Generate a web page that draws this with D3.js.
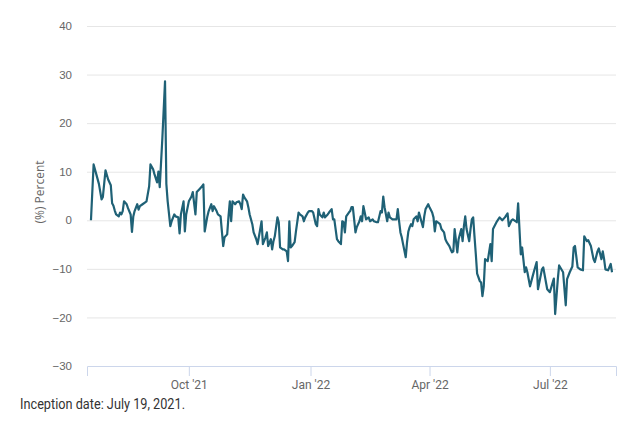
<!DOCTYPE html>
<html>
<head>
<meta charset="utf-8">
<script src="https://cdn.jsdelivr.net/npm/d3@7"></script>
<style>
  body { margin: 0; background: #fff; }
  svg { display: block; font-family: "Open Sans", sans-serif; }
  .note { font-family: "Liberation Sans Narrow", Roboto, sans-serif; }
</style>
</head>
<body>
<svg id="chart" width="640" height="421"></svg>
<script>
// daily percent values
const dates = [
  "2021-07-19","2021-07-21","2021-07-23","2021-07-25","2021-07-27","2021-07-28","2021-07-30","2021-08-01","2021-08-03","2021-08-04",
  "2021-08-05","2021-08-06","2021-08-07","2021-08-09","2021-08-10","2021-08-11","2021-08-12","2021-08-13","2021-08-15","2021-08-16",
  "2021-08-18","2021-08-19","2021-08-20","2021-08-21","2021-08-23","2021-08-24","2021-08-25","2021-08-27","2021-08-29","2021-08-30",
  "2021-09-01","2021-09-02","2021-09-04","2021-09-05","2021-09-07","2021-09-08","2021-09-09","2021-09-11","2021-09-13","2021-09-14",
  "2021-09-15","2021-09-17","2021-09-18","2021-09-20","2021-09-21","2021-09-23","2021-09-24","2021-09-25","2021-09-27","2021-09-28",
  "2021-09-29","2021-10-01","2021-10-03","2021-10-04","2021-10-06","2021-10-07","2021-10-09","2021-10-11","2021-10-12","2021-10-13",
  "2021-10-15","2021-10-16","2021-10-18","2021-10-19","2021-10-20","2021-10-22","2021-10-23","2021-10-25","2021-10-26","2021-10-27",
  "2021-10-28","2021-10-30","2021-10-31","2021-11-01","2021-11-02","2021-11-03","2021-11-05","2021-11-06","2021-11-08","2021-11-09",
  "2021-11-10","2021-11-11","2021-11-12","2021-11-14","2021-11-15","2021-11-16","2021-11-18","2021-11-19","2021-11-21","2021-11-22",
  "2021-11-24","2021-11-25","2021-11-26","2021-11-28","2021-11-29","2021-11-30","2021-12-02","2021-12-03","2021-12-04","2021-12-05",
  "2021-12-07","2021-12-08","2021-12-09","2021-12-11","2021-12-12","2021-12-14","2021-12-15","2021-12-16","2021-12-17","2021-12-18",
  "2021-12-20","2021-12-21","2021-12-23","2021-12-24","2021-12-26","2021-12-27","2021-12-28","2021-12-30","2021-12-31","2022-01-02",
  "2022-01-03","2022-01-05","2022-01-06","2022-01-07","2022-01-08","2022-01-10","2022-01-11","2022-01-12","2022-01-14","2022-01-15",
  "2022-01-17","2022-01-18","2022-01-19","2022-01-21","2022-01-22","2022-01-24","2022-01-25","2022-01-26","2022-01-27","2022-01-28",
  "2022-01-30","2022-01-31","2022-02-01","2022-02-02","2022-02-03","2022-02-04","2022-02-05","2022-02-07","2022-02-08","2022-02-09",
  "2022-02-10","2022-02-11","2022-02-12","2022-02-14","2022-02-15","2022-02-17","2022-02-18","2022-02-20","2022-02-21","2022-02-23",
  "2022-02-24","2022-02-25","2022-02-26","2022-02-28","2022-03-01","2022-03-02","2022-03-04","2022-03-05","2022-03-07","2022-03-08",
  "2022-03-09","2022-03-10","2022-03-11","2022-03-12","2022-03-14","2022-03-15","2022-03-16","2022-03-17","2022-03-18","2022-03-19",
  "2022-03-20","2022-03-22","2022-03-23","2022-03-24","2022-03-25","2022-03-26","2022-03-27","2022-03-28","2022-03-29","2022-03-31",
  "2022-04-01","2022-04-03","2022-04-04","2022-04-05","2022-04-06","2022-04-07","2022-04-09","2022-04-10","2022-04-12","2022-04-13",
  "2022-04-14","2022-04-16","2022-04-17","2022-04-18","2022-04-19","2022-04-20","2022-04-22","2022-04-23","2022-04-25","2022-04-26",
  "2022-04-27","2022-04-28","2022-04-29","2022-05-01","2022-05-02","2022-05-03","2022-05-04","2022-05-05","2022-05-06","2022-05-07",
  "2022-05-09","2022-05-10","2022-05-11","2022-05-12","2022-05-13","2022-05-15","2022-05-17","2022-05-18","2022-05-19","2022-05-22",
  "2022-05-24","2022-05-26","2022-05-28","2022-05-30","2022-05-31","2022-06-02","2022-06-03","2022-06-06","2022-06-07","2022-06-09",
  "2022-06-10","2022-06-12","2022-06-13","2022-06-14","2022-06-16","2022-06-18","2022-06-19","2022-06-21","2022-06-22","2022-06-25",
  "2022-06-26","2022-06-29","2022-07-01","2022-07-04","2022-07-05","2022-07-07","2022-07-08","2022-07-11","2022-07-13","2022-07-14",
  "2022-07-16","2022-07-18","2022-07-19","2022-07-20","2022-07-22","2022-07-24","2022-07-26","2022-07-27","2022-07-29","2022-07-30",
  "2022-08-01","2022-08-03","2022-08-04","2022-08-06","2022-08-07","2022-08-09","2022-08-10","2022-08-11","2022-08-12","2022-08-14",
  "2022-08-16","2022-08-17"
];
const values = [
  0, 11.5, 9.5, 7.5, 4.3, 4.8, 10.3, 8.4, 7.2, 3.5,
  3.0, 2.0, 1.2, 0.8, 1.6, 1.2, 1.9, 3.9, 3.3, 2.5,
  1.2, -2.4, 0.8, 1.9, 3.3, 2.2, 2.9, 3.3, 3.7, 3.9,
  7.0, 11.5, 10.5, 9.5, 7.8, 10.0, 6.8, 17, 28.6, 7.5,
  3.9, -1.2, -0.2, 1.2, 0.8, 0.6, -2.7, 1.2, 3.9, -2.3,
  1.2, 3.9, 4.9, 5.8, 1.2, 5.8, 6.4, 7.0, 7.4, -2.3,
  0.8, 1.9, 3.3, 1.9, 2.9, 1.9, 1.2, 0.8, -2.3, -5.3,
  -3.5, -2.9, 0.8, 3.9, -0.2, 3.9, 3.3, 3.7, 3.9, 3.3,
  2.3, 5.3, 4.7, 3.9, 2.7, 1.2, -0.8, -2.5, -3.9, -4.9,
  -1.8, -0.2, -4.9, -3.5, -2.5, -5.3, -3.9, -6.0, -4.3, -3.3,
  0.6, -0.4, -5.6, -6.0, -6.0, -6.4, -8.4, -0.2, -5.6, -5.3,
  -4.5, -2.3, 1.6, 1.2, 0.8, -0.2, 0.6, 1.6, 1.9, 1.9,
  1.6, -0.8, -1.2, 2.3, 1.2, 0.6, 1.6, 0.6, 1.2, 1.6,
  2.3, 0.2, 0.2, -3.9, -4.3, -4.9, -0.2, -0.4, -2.5, 0.8,
  1.6, 1.9, 2.7, 2.7, 0.2, -2.5, -1.4, -0.2, 0.8, -0.2,
  2.9, 1.6, 0.2, 0.6, -0.2, 0.2, -0.2, -0.4, -0.4, 1.9,
  1.6, 4.9, 2.7, -0.2, 1.6, 0.6, 0.2, 0.2, 0.2, 2.3,
  -0.2, -2.5, -3.5, -4.9, -7.6, -4.5, -2.3, -1.4, -0.8, -1.2,
  0.2, 0.8, -0.2, 1.6, 0.6, -0.4, -1.4, 0.8, 2.3, 3.3,
  2.7, 1.6, 0.6, -2.3, -0.2, -0.4, -0.8, -1.8, -2.5, -3.9,
  -4.5, -5.3, -6.0, -6.6, -6.4, -1.8, -6.6, -3.9, -1.8, -4.3,
  -1.2, 0.8, -1.8, -4.3, -1.8, 0.2, 0.6, -3.3, -7.0, -11.0,
  -12.5, -12.8, -15.6, -13.6, -8.0, -8.4, -4.9, -8.4, -1.8, -0.2,
  0.6, 0, 0.6, 1.4, -1.2, 0, 0.2, -0.4, 3.5, -7.0,
  -5.6, -10.7, -9.7, -10.7, -13.6, -11.5, -10.5, -8.6, -14.2, -10.1,
  -9.7, -14.2, -14.8, -12.0, -19.3, -12.1, -9.3, -10.7, -17.5, -12.1,
  -10.7, -9.5, -5.6, -5.3, -9.7, -10.1, -10.3, -3.3, -4.3, -4.1,
  -5.3, -8.0, -8.6, -6.4, -5.8, -8.0, -6.4, -8.0, -10.1, -10.3,
  -9.0, -10.7
];

const yTicks = [40, 30, 20, 10, 0, -10, -20, -30];
const xTickDates = ["2021-10-01", "2022-01-01", "2022-04-01", "2022-07-01"];
const xTickLabels = ["Oct '21", "Jan '22", "Apr '22", "Jul '22"];
const xDomain = ["2021-07-16", "2022-08-20"];

const parse = d3.timeParse('%Y-%m-%d');
const data = dates.map((d, i) => ({ date: parse(d), value: values[i] }));

const svg = d3.select('#chart');
const margin = { top: 26, right: 24, bottom: 55, left: 87 };
const width = +svg.attr('width') - margin.left - margin.right;
const height = +svg.attr('height') - margin.top - margin.bottom;

const x = d3.scaleTime()
  .domain(xDomain.map(parse))
  .range([0, width]);
const y = d3.scaleLinear()
  .domain([-30, 40])
  .range([height, 0]);

const g = svg.append('g')
  .attr('transform', `translate(${margin.left},${margin.top})`);

// y grid + labels
const yAxis = g.append('g')
  .call(d3.axisLeft(y).tickValues(yTicks).tickSize(-width).tickPadding(15))
  .call(a => a.select('.domain').remove());
yAxis.selectAll('line')
  .attr('stroke', (d) => d === -30 ? 'none' : '#e6e6e6');
yAxis.selectAll('text')
  .attr('fill', '#666')
  .style('font-size', '11.5px');

// x axis
const xAxis = g.append('g')
  .attr('transform', `translate(0,${height})`)
  .call(d3.axisBottom(x)
    .tickValues(xTickDates.map(parse))
    .tickFormat((d, i) => xTickLabels[i])
    .tickSize(10)
    .tickPadding(4));
xAxis.select('.domain').attr('stroke', '#ccd6eb');
xAxis.selectAll('line').attr('stroke', '#ccd6eb');
xAxis.selectAll('text')
  .attr('class', 'note')
  .attr('fill', '#666')
  .style('font-size', '12px');

// y title
svg.append('text')
  .attr('transform', `translate(44,${margin.top + height / 2 - 4}) rotate(-90)`)
  .attr('text-anchor', 'middle')
  .attr('fill', '#666')
  .style('font-size', '12px')
  .text('(%) Percent');

// the line
const line = d3.line()
  .x(d => x(d.date))
  .y(d => y(d.value));

g.append('path')
  .datum(data)
  .attr('fill', 'none')
  .attr('stroke', '#1f6176')
  .attr('stroke-width', 2.2)
  .attr('stroke-linejoin', 'round')
  .attr('d', line);

// footnote (narrow face in the original, squeezed to its width)
svg.append('text')
  .attr('class', 'note')
  .attr('x', 20)
  .attr('y', 409)
  .attr('fill', '#333')
  .attr('textLength', 165)
  .attr('lengthAdjust', 'spacingAndGlyphs')
  .style('font-size', '14px')
  .text('Inception date: July 19, 2021.');
</script>
</body>
</html>
